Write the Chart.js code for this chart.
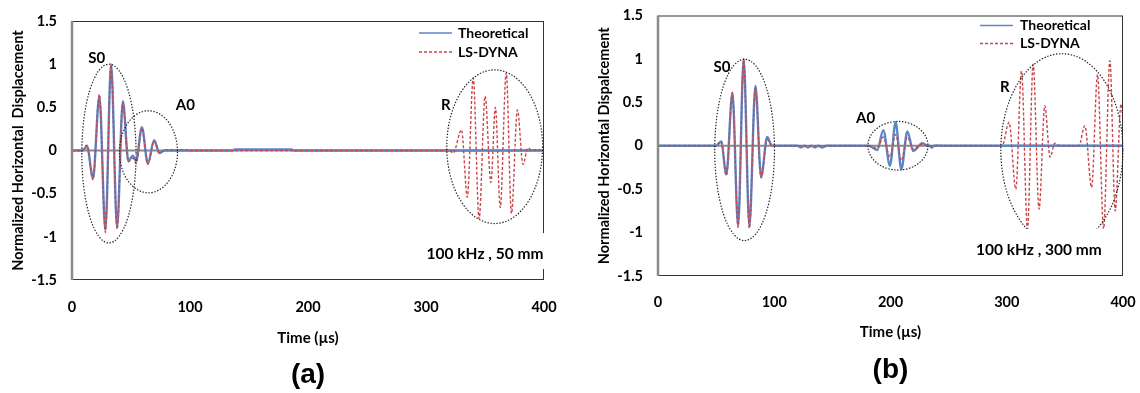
<!DOCTYPE html>
<html>
<head>
<meta charset="utf-8">
<script src="https://cdn.jsdelivr.net/npm/chart.js"></script>
<style>
  body { margin: 0; background: #fff; }
  .panel { position: absolute; top: 0; width: 570px; height: 393px; }
</style>
</head>
<body>
<div class="panel" style="left:0"><canvas id="chartA" width="570" height="393"></canvas></div>
<div class="panel" style="left:570px"><canvas id="chartB" width="570" height="393"></canvas></div>
<script>
// axis ticks
const xTicks = [0, 100, 200, 300, 400];
const yTicks = [-1.5, -1, -0.5, 0, 0.5, 1, 1.5];

// (a) 100 kHz, 50 mm
const timeA_theo = [0, 9, 12.7, 17.8, 23.2, 28.3, 33.1, 38.2, 43.1, 47.8, 51.5, 54.4, 59.2, 64.3, 69.6, 74.1, 78, 136, 138, 186, 188, 400];
const dispA_theo = [0, 0, 0.05, -0.32, 0.63, -0.92, 1.0, -0.89, 0.57, -0.12, -0.06, -0.12, 0.27, -0.15, 0.12, -0.03, 0, 0, 0.012, 0.012, 0, 0];
const timeA_dyna = [0, 8, 12.7, 17.8, 23.2, 28.3, 33.1, 38.2, 43.1, 47.8, 51.5, 54.4, 59.2, 64.3, 69.6, 74.1, 78, 80, 98, 100,
                    320, 323, 330.1, 335, 340, 345, 350.1, 355, 358.8, 362.9, 368, 372.4, 377.5, 382.2, 386.4, 390, 393, 400];
const dispA_dyna = [0, 0, 0.06, -0.34, 0.65, -0.95, 0.99, -0.91, 0.56, -0.13, -0.09, -0.15, 0.26, -0.16, 0.11, -0.03, 0, 0.01, 0.01, 0,
                    0, -0.03, 0.24, -0.54, 0.84, -0.79, 0.63, -0.37, 0.5, -0.66, 0.9, -0.73, 0.47, -0.16, 0.03, 0, 0.01, 0.01];

// (b) 100 kHz, 300 mm
const timeB_theo = [0, 50, 54.3, 58.8, 64, 68.9, 73.7, 78.6, 83.8, 88.7, 93.9, 98, 120, 123, 126, 129, 132, 135, 138, 141, 145,
                    181.4, 188.6, 193.8, 199.5, 204.4, 209.3, 214.5, 219.6, 227.4, 232, 233.5, 235.5, 237.5, 400];
const dispB_theo = [0, 0, 0.05, -0.33, 0.61, -0.92, 1.0, -0.93, 0.69, -0.36, 0.10, 0, 0, -0.02, 0, -0.02, 0, -0.02, 0, -0.02, 0,
                    0, -0.05, 0.18, -0.23, 0.27, -0.27, 0.165, -0.06, 0.03, 0, 0, -0.02, 0, 0];
const timeB_dyna = [0, 50, 54.3, 58.8, 64, 68.9, 73.7, 78.6, 83.8, 88.7, 93.9, 98,
                    181, 188.6, 193.8, 199.5, 204.4, 209.3, 214.5, 219.6, 227.4, 232, 238, 241, 244,
                    296, 302, 307.8, 312.7, 317.8, 322.7, 327.8, 332.7, 337.3, 341.4, 346,
                    362, 367.2, 373, 378.1, 383.3, 388.7, 393.3, 398.3, 400];
const dispB_dyna = [0, 0, 0.05, -0.34, 0.61, -0.94, 0.99, -0.95, 0.68, -0.37, 0.07, 0,
                    0, -0.03, 0.10, -0.13, 0.13, -0.17, 0.10, -0.04, 0.02, 0, 0, 0.01, 0,
                    0, 0.27, -0.5, 0.86, -0.96, 0.94, -0.73, 0.46, -0.13, 0.03, 0,
                    0, 0.23, -0.48, 0.82, -0.96, 0.98, -0.75, 0.48, 0.3];

const FONT = 'Lato, "Liberation Sans", sans-serif';
const BLUE = '#5b87c6';
const RED = '#c9464a';

function pts(ts, vs) {
    return ts.map((t, i) => ({ x: t, y: vs[i] }));
}

// drop the label overflow padding so the plot area sits where layout.padding says
function noScalePad(s) {
    s.paddingLeft = 0;
    s.paddingRight = 0;
    s.paddingTop = 0;
    s.paddingBottom = 0;
}

// draws the Excel-like frame, zero axis, ellipses, labels, legend and titles
const decor = {
    id: 'decor',
    beforeDatasetsDraw(chart, args, o) {
        const { ctx, chartArea: a, scales: { y } } = chart;
        const y0 = y.getPixelForValue(0);
        ctx.save();
        ctx.strokeStyle = '#8a8a8a';
        ctx.lineWidth = 2;
        ctx.beginPath();
        ctx.moveTo(a.left, y0);
        ctx.lineTo(a.right, y0);
        ctx.stroke();
        ctx.restore();
    },
    afterDatasetsDraw(chart, args, o) {
        const { ctx, chartArea: a, scales: { x, y } } = chart;
        ctx.save();

        // plot border
        ctx.strokeStyle = '#333';
        ctx.lineWidth = 1;
        ctx.strokeRect(a.left + 0.5, a.top + 0.5, a.right - a.left - 1, a.bottom - a.top - 1);
        ctx.strokeStyle = '#8a8a8a';
        ctx.lineWidth = 2.5;
        ctx.beginPath();
        ctx.moveTo(a.left, a.top);
        ctx.lineTo(a.left, a.bottom);
        ctx.stroke();

        // dotted ellipses
        ctx.strokeStyle = '#222';
        ctx.lineWidth = 1.2;
        ctx.setLineDash([1.4, 1.6]);
        o.ellipses.forEach(e => {
            const cx = x.getPixelForValue(e.t), cy = y.getPixelForValue(e.v);
            const rx = x.getPixelForValue(e.t + e.rt) - cx;
            const ry = cy - y.getPixelForValue(e.v + e.rv);
            ctx.beginPath();
            ctx.ellipse(cx, cy, rx, ry, 0, 0, Math.PI * 2);
            ctx.stroke();
        });
        ctx.setLineDash([]);

        // wave labels
        ctx.fillStyle = '#000';
        ctx.textAlign = 'center';
        ctx.textBaseline = 'middle';
        ctx.font = 'bold 15px ' + FONT;
        o.labels.forEach(l => {
            ctx.fillText(l.text, x.getPixelForValue(l.t), y.getPixelForValue(l.v));
        });

        // note box (white fill hides what is behind it)
        ctx.font = 'bold 15.5px ' + FONT;
        const nx = x.getPixelForValue(o.note.t), ny = y.getPixelForValue(o.note.v);
        const nw = ctx.measureText(o.note.text).width;
        ctx.fillStyle = '#fff';
        ctx.fillRect(nx - nw / 2 - 6, ny - 21, nw + 12, 36);
        ctx.fillStyle = '#000';
        ctx.fillText(o.note.text, nx, ny);

        // legend
        const lg = o.legend;
        ctx.textAlign = 'left';
        ctx.font = 'bold 14px ' + FONT;
        const rows = [
            { text: 'Theoretical', color: BLUE, dash: [], w: 1.5 },
            { text: 'LS-DYNA', color: RED, dash: [3, 2], w: 1.4 }
        ];
        rows.forEach((r, i) => {
            const ly = a.top + lg.top + i * lg.gap;
            ctx.save();
            ctx.strokeStyle = r.color;
            ctx.lineWidth = r.w;
            ctx.setLineDash(r.dash);
            ctx.beginPath();
            ctx.moveTo(a.right - lg.x1, ly);
            ctx.lineTo(a.right - lg.x2, ly);
            ctx.stroke();
            ctx.restore();
            ctx.fillStyle = '#000';
            ctx.fillText(r.text, a.right - lg.tx, ly);
        });
        ctx.restore();
    },
    afterDraw(chart, args, o) {
        const { ctx, chartArea: a } = chart;
        const cx = (a.left + a.right) / 2;
        ctx.save();
        ctx.fillStyle = '#000';
        ctx.textAlign = 'center';
        ctx.textBaseline = 'middle';
        ctx.font = 'bold 15px ' + FONT;
        ctx.fillText('Time (\u00b5s)', cx, a.bottom + o.timeGap);
        ctx.font = 'bold 28px "Liberation Sans", Arial, sans-serif';
        ctx.fillText(o.tag, cx, a.bottom + o.tagGap);
        ctx.translate(a.left - 54, (a.top + a.bottom) / 2);
        ctx.rotate(-Math.PI / 2);
        ctx.font = 'bold 14.5px ' + FONT;
        ctx.fillText(o.yTitle, 0, 0);
        ctx.restore();
    }
};

function makeChart(id, theo, dyna, layout, deco) {
    return new Chart(document.getElementById(id), {
        type: 'line',
        data: {
            datasets: [
                {
                    label: 'Theoretical', data: theo, order: 2,
                    borderColor: BLUE, borderWidth: 2.4,
                    pointRadius: 0, cubicInterpolationMode: 'monotone'
                },
                {
                    label: 'LS-DYNA', data: dyna, order: 1,
                    borderColor: RED, borderWidth: 1.4, borderDash: [3, 2],
                    pointRadius: 0, cubicInterpolationMode: 'monotone'
                }
            ]
        },
        options: {
            responsive: false,
            animation: false,
            layout: { padding: layout.padding },
            plugins: { legend: { display: false }, tooltip: { enabled: false }, decor: deco },
            scales: {
                x: {
                    type: 'linear', min: 0, max: 400,
                    afterBuildTicks: s => { s.ticks = xTicks.map(v => ({ value: v })); },
                    afterFit: s => { s.height = 40; noScalePad(s); },
                    grid: { display: false, drawTicks: false },
                    border: { display: false },
                    ticks: {
                        padding: layout.xPad, color: '#000', callback: v => String(v),
                        font: { family: FONT, weight: 'bold', size: 14.5 }
                    }
                },
                y: {
                    min: -1.5, max: 1.5,
                    afterBuildTicks: s => { s.ticks = yTicks.map(v => ({ value: v })); },
                    afterFit: s => { s.width = layout.yWidth; noScalePad(s); },
                    grid: { display: false, drawTicks: false },
                    border: { display: false },
                    ticks: {
                        padding: 15, color: '#000', callback: v => String(v),
                        font: { family: FONT, weight: 'bold', size: 14.5 }
                    }
                }
            }
        },
        plugins: [decor]
    });
}

makeChart('chartA', pts(timeA_theo, dispA_theo), pts(timeA_dyna, dispA_dyna),
    { padding: { left: 0, right: 26, top: 21, bottom: 73 }, yWidth: 72, xPad: 19 },
    {
        ellipses: [
            { t: 31.3, v: -0.035, rt: 23, rv: 1.035 },
            { t: 64.8, v: -0.015, rt: 24.6, rv: 0.475 },
            { t: 358.2, v: 0.044, rt: 40.6, rv: 0.89 }
        ],
        labels: [
            { text: 'S0', t: 21, v: 1.07 },
            { text: 'A0', t: 96, v: 0.53 },
            { text: 'R', t: 316.8, v: 0.53 }
        ],
        note: { text: '100 kHz , 50 mm', t: 350, v: -1.2 },
        legend: { top: 12, gap: 19, x1: 125, x2: 92, tx: 86 },
        timeGap: 58, tagGap: 95, tag: '(a)',
        yTitle: 'Normalized Horizontal  Displacement'
    });

makeChart('chartB', pts(timeB_theo, dispB_theo), pts(timeB_dyna, dispB_dyna),
    { padding: { left: 0, right: 17, top: 15.5, bottom: 77 }, yWidth: 88, xPad: 18 },
    {
        ellipses: [
            { t: 74.5, v: -0.048, rt: 25.7, rv: 1.044 },
            { t: 206.4, v: 0, rt: 25.8, rv: 0.28 },
            { t: 347.4, v: -0.05, rt: 52.5, rv: 1.11 }
        ],
        labels: [
            { text: 'S0', t: 55.1, v: 0.9 },
            { text: 'A0', t: 178.6, v: 0.32 },
            { text: 'R', t: 298.3, v: 0.67 }
        ],
        note: { text: '100 kHz , 300 mm', t: 327.6, v: -1.2 },
        legend: { top: 10, gap: 18, x1: 143, x2: 110, tx: 103 },
        timeGap: 56, tagGap: 94, tag: '(b)',
        yTitle: 'Normalized Horizontal Dispalcement'
    });
</script>
</body>
</html>
